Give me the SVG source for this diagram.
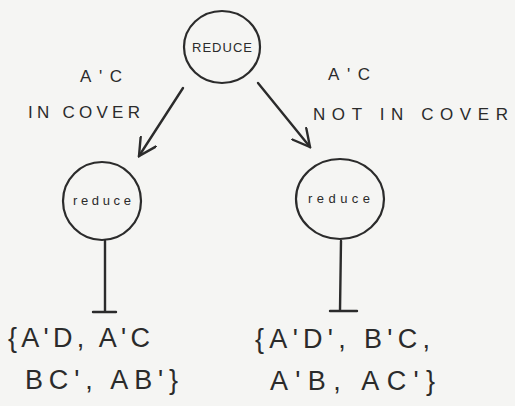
<svg xmlns="http://www.w3.org/2000/svg" width="515" height="406" viewBox="0 0 515 406">
<defs>
<style>
.node{fill:none;stroke:#2b2b2b;stroke-width:2.2}
.t{font-family:"Liberation Sans",Arial,sans-serif;fill:#2b2b2b}
.nt{font-size:13px;text-anchor:middle}
.lbl{font-size:17px}
.set{font-size:27px}
.edge{fill:none;stroke:#2b2b2b;stroke-width:2.4;stroke-linecap:round}
</style>
<marker id="arr" viewBox="0 0 12 12" refX="11" refY="6" markerWidth="12" markerHeight="12" markerUnits="userSpaceOnUse" orient="auto">
<path d="M0,0 L11,6 L0,12" fill="none" stroke="#2b2b2b" stroke-width="1.6"/>
</marker>
<marker id="big" viewBox="0 0 20 20" refX="18" refY="10" markerWidth="20" markerHeight="20" markerUnits="userSpaceOnUse" orient="auto">
<path d="M1,1 L18,10 L1,19" fill="none" stroke="#2b2b2b" stroke-width="2.4" stroke-linecap="round"/>
</marker>
</defs>
<rect width="515" height="406" fill="#f5f5f3"/>
<g id="connectors">
<path class="edge" d="M183,88 L139,156" marker-end="url(#big)"/>
<path class="edge" d="M258,83 L310,147" marker-end="url(#big)"/>
<path class="edge" d="M105,241 L105,312 M93,312 L116,312"/>
<path class="edge" d="M341,241 L340,311 M330,311 L357,311"/>
</g>
<g id="label-left">
<text class="t lbl" x="80" y="82" textLength="42">A'C</text>
<text class="t lbl" x="28" y="118" textLength="112">IN COVER</text>
</g>
<g id="label-right">
<text class="t lbl" x="328" y="80" textLength="42">A'C</text>
<text class="t lbl" x="313" y="120" textLength="195">NOT IN COVER</text>
</g>
<g id="root">
<ellipse class="node" cx="222" cy="47" rx="38" ry="36"/>
<text class="t nt" x="222" y="52" textLength="60">REDUCE</text>
</g>
<g id="left">
<circle class="node" cx="102" cy="201" r="39"/>
<text class="t nt" x="102" y="205" textLength="58">reduce</text>
</g>
<g id="right">
<ellipse class="node" cx="340" cy="199" rx="44" ry="40"/>
<text class="t nt" x="339" y="203" textLength="62">reduce</text>
</g>
<g id="set-left">
<text class="t set" x="8" y="347" textLength="142">{A'D, A'C</text>
<text class="t set" x="25" y="389" textLength="153">BC', AB'}</text>
</g>
<g id="set-right">
<text class="t set" x="255" y="348" textLength="175">{A'D', B'C,</text>
<text class="t set" x="270" y="390" textLength="165">A'B, AC'}</text>
</g>
</svg>
